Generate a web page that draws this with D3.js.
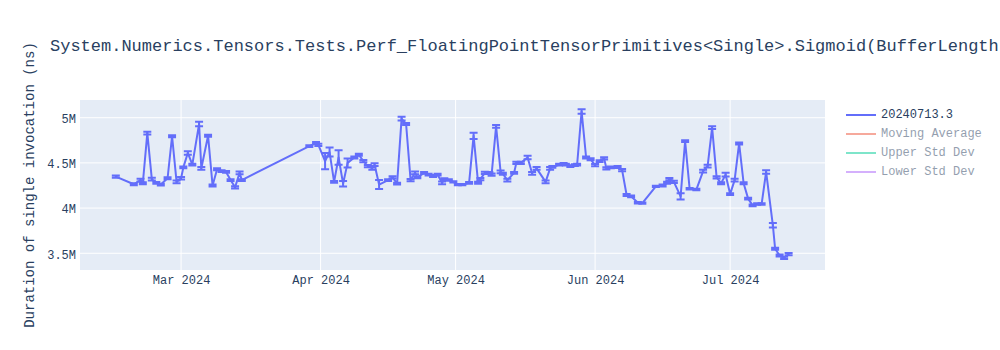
<!DOCTYPE html>
<html>
<head>
<meta charset="utf-8">
<script src="https://cdn.jsdelivr.net/npm/d3@7"></script>
<style>
  body { margin: 0; background: #fff; }
  text { font-family: "Courier New", "Liberation Mono", monospace; fill: #2a3f5f; }
</style>
</head>
<body>
<div class="chart"></div>
<script>
// build dates (runs), duration in ns, and std error per run
const dates = [
  "2024-02-15 12","2024-02-19 12","2024-02-21 00","2024-02-21 12","2024-02-22 12","2024-02-23 12",
  "2024-02-24 12","2024-02-25 12","2024-02-27 00","2024-02-28 00","2024-02-29 00","2024-03-01 00",
  "2024-03-01 12","2024-03-02 12","2024-03-03 12","2024-03-05 00","2024-03-05 12","2024-03-07 00",
  "2024-03-08 00","2024-03-09 00","2024-03-10 00","2024-03-11 00","2024-03-12 00","2024-03-13 00",
  "2024-03-14 00","2024-03-14 12","2024-03-29 12","2024-03-31 00","2024-03-31 12","2024-04-02 00",
  "2024-04-03 00","2024-04-04 00","2024-04-05 00","2024-04-06 00","2024-04-07 00","2024-04-08 12",
  "2024-04-09 12","2024-04-10 12","2024-04-11 12","2024-04-12 12","2024-04-13 00","2024-04-14 00",
  "2024-04-16 00","2024-04-17 00","2024-04-18 00","2024-04-19 00","2024-04-20 00","2024-04-21 00",
  "2024-04-22 00","2024-04-22 12","2024-04-24 00","2024-04-25 00","2024-04-26 00","2024-04-27 00",
  "2024-04-28 00","2024-04-28 12","2024-04-29 12","2024-04-30 12","2024-05-01 12","2024-05-02 12",
  "2024-05-04 00","2024-05-05 00","2024-05-06 00","2024-05-06 12","2024-05-07 12","2024-05-08 12",
  "2024-05-09 00","2024-05-10 00","2024-05-11 00","2024-05-11 12","2024-05-12 12","2024-05-14 00",
  "2024-05-14 12","2024-05-15 12","2024-05-17 00","2024-05-18 00","2024-05-19 00","2024-05-21 00",
  "2024-05-22 00","2024-05-22 12","2024-05-24 00","2024-05-25 00","2024-05-25 12","2024-05-26 12",
  "2024-05-27 12","2024-05-28 00","2024-05-29 00","2024-05-30 00","2024-05-31 00","2024-06-01 00",
  "2024-06-02 00","2024-06-03 00","2024-06-03 12","2024-06-04 12","2024-06-06 00","2024-06-07 00",
  "2024-06-08 00","2024-06-09 00","2024-06-10 12","2024-06-11 12","2024-06-14 12","2024-06-16 00",
  "2024-06-17 00","2024-06-17 12","2024-06-18 12","2024-06-20 00","2024-06-21 00","2024-06-22 00",
  "2024-06-23 12","2024-06-25 00","2024-06-26 00","2024-06-27 00","2024-06-28 00","2024-06-29 00",
  "2024-06-30 00","2024-07-01 00","2024-07-02 00","2024-07-03 00","2024-07-04 00","2024-07-05 00",
  "2024-07-06 00","2024-07-07 00","2024-07-08 00","2024-07-09 00","2024-07-10 12","2024-07-11 00",
  "2024-07-12 00","2024-07-13 00","2024-07-14 00"
];
const durations = [
  4.348e6,4.264e6,4.31e6,4.275e6,4.83e6,4.32e6,
  4.28e6,4.26e6,4.33e6,4.795e6,4.29e6,4.33e6,
  4.45e6,4.61e6,4.48e6,4.93e6,4.44e6,4.80e6,
  4.25e6,4.43e6,4.41e6,4.40e6,4.31e6,4.23e6,
  4.39e6,4.31e6,4.685e6,4.72e6,4.70e6,4.52e6,
  4.62e6,4.29e6,4.56e6,4.27e6,4.50e6,4.56e6,
  4.59e6,4.52e6,4.465e6,4.44e6,4.48e6,4.26e6,
  4.31e6,4.34e6,4.27e6,4.99e6,4.93e6,4.31e6,
  4.39e6,4.34e6,4.39e6,4.37e6,4.355e6,4.37e6,
  4.28e6,4.32e6,4.31e6,4.29e6,4.26e6,4.26e6,
  4.28e6,4.80e6,4.28e6,4.32e6,4.39e6,4.39e6,
  4.37e6,4.905e6,4.40e6,4.38e6,4.31e6,4.39e6,
  4.50e6,4.50e6,4.56e6,4.385e6,4.44e6,4.29e6,
  4.44e6,4.455e6,4.48e6,4.49e6,4.48e6,4.465e6,
  4.475e6,4.48e6,5.07e6,4.56e6,4.54e6,4.475e6,
  4.52e6,4.55e6,4.44e6,4.45e6,4.455e6,4.42e6,
  4.145e6,4.13e6,4.06e6,4.055e6,4.24e6,4.25e6,
  4.28e6,4.32e6,4.29e6,4.13e6,4.74e6,4.215e6,
  4.205e6,4.41e6,4.465e6,4.89e6,4.34e6,4.275e6,
  4.37e6,4.155e6,4.31e6,4.715e6,4.275e6,4.105e6,
  4.03e6,4.045e6,4.045e6,4.40e6,3.81e6,3.55e6,
  3.475e6,3.45e6,3.49e6
];
const errors = [
  12e3,10e3,15e3,10e3,15e3,15e3,
  10e3,10e3,12e3,12e3,15e3,15e3,
  10e3,20e3,10e3,25e3,15e3,12e3,
  12e3,12e3,10e3,10e3,10e3,12e3,
  15e3,10e3,10e3,12e3,12e3,90e3,
  50e3,10e3,80e3,30e3,50e3,10e3,
  12e3,12e3,12e3,15e3,15e3,50e3,
  10e3,12e3,10e3,20e3,12e3,12e3,
  15e3,10e3,10e3,10e3,12e3,10e3,
  15e3,10e3,8e3,8e3,6e3,6e3,
  10e3,35e3,12e3,12e3,12e3,10e3,
  12e3,15e3,15e3,10e3,15e3,10e3,
  12e3,12e3,20e3,15e3,15e3,15e3,
  15e3,10e3,10e3,10e3,10e3,10e3,
  10e3,10e3,25e3,10e3,12e3,12e3,
  10e3,12e3,12e3,10e3,12e3,12e3,
  10e3,10e3,8e3,8e3,8e3,10e3,
  12e3,12e3,12e3,35e3,10e3,8e3,
  8e3,15e3,15e3,15e3,12e3,12e3,
  20e3,10e3,15e3,12e3,10e3,10e3,
  10e3,8e3,8e3,20e3,25e3,12e3,
  12e3,12e3,12e3
];
const legendNames = ["20240713.3", "Moving Average", "Upper Std Dev", "Lower Std Dev"];
const legendColors = ["#636efa", "#EF553B", "#00cc96", "#ab63fa"];
const yTicks = [3.5e6, 4e6, 4.5e6, 5e6];
const title = "System.Numerics.Tensors.Tests.Perf_FloatingPointTensorPrimitives<Single>.Sigmoid(BufferLength";

const width = 1000;
const height = 350;
const margin = {top: 100, right: 175, bottom: 80, left: 80};

const parse = d3.timeParse("%Y-%m-%d %H");
const data = dates.map((d, i) => ({date: parse(d), value: durations[i], err: errors[i]}));

const svg = d3.select(".chart")
  .append("svg")
  .attr("width", width)
  .attr("height", height)
  .attr("viewBox", [0, 0, width, height]);

const x = d3.scaleTime()
  .domain([parse("2024-02-07 13"), parse("2024-07-22 02")])
  .range([margin.left, width - margin.right]);

const y = d3.scaleLinear()
  .domain([3.315e6, 5.196e6])
  .range([height - margin.bottom, margin.top]);

// plot background
svg.append("rect")
  .attr("x", margin.left)
  .attr("y", margin.top)
  .attr("width", width - margin.left - margin.right)
  .attr("height", height - margin.top - margin.bottom)
  .attr("fill", "#E5ECF6");

// grid
const xTicks = x.ticks(d3.timeMonth.every(1));
svg.append("g")
  .selectAll("line")
  .data(xTicks)
  .join("line")
  .attr("x1", d => x(d)).attr("x2", d => x(d))
  .attr("y1", margin.top).attr("y2", height - margin.bottom)
  .attr("stroke", "#fff").attr("stroke-width", 1);

svg.append("g")
  .selectAll("line")
  .data(yTicks)
  .join("line")
  .attr("x1", margin.left).attr("x2", width - margin.right)
  .attr("y1", d => y(d)).attr("y2", d => y(d))
  .attr("stroke", "#fff").attr("stroke-width", 1);

// axes
const xAxis = svg.append("g")
  .attr("transform", `translate(0,${height - margin.bottom})`)
  .call(d3.axisBottom(x).tickValues(xTicks).tickFormat(d3.timeFormat("%b %Y")).tickSize(0).tickPadding(5));
xAxis.select(".domain").remove();

const yAxis = svg.append("g")
  .attr("transform", `translate(${margin.left},0)`)
  .call(d3.axisLeft(y).tickValues(yTicks).tickFormat(d3.format("~s")).tickSize(0).tickPadding(4));
yAxis.select(".domain").remove();
yAxis.selectAll(".tick text").attr("dy", "0.4em");

svg.selectAll(".tick text")
  .attr("font-family", "'Courier New', 'Liberation Mono', monospace")
  .attr("font-size", 12)
  .attr("fill", "#2a3f5f");

// error bars
const color = legendColors[0];
const bars = svg.append("g")
  .attr("stroke", color)
  .attr("stroke-width", 2);

bars.selectAll(".eb")
  .data(data)
  .join("path")
  .attr("class", "eb")
  .attr("fill", "none")
  .attr("d", d => {
    const cx = x(d.date), y0 = y(d.value - d.err), y1 = y(d.value + d.err);
    return `M${cx - 4},${y0}H${cx + 4}M${cx},${y0}V${y1}M${cx - 4},${y1}H${cx + 4}`;
  });

// line
const line = d3.line()
  .x(d => x(d.date))
  .y(d => y(d.value));

svg.append("path")
  .datum(data)
  .attr("fill", "none")
  .attr("stroke", color)
  .attr("stroke-width", 2)
  .attr("stroke-linejoin", "round")
  .attr("d", line);

// title
svg.append("text")
  .attr("x", 50)
  .attr("y", 46)
  .attr("dominant-baseline", "central")
  .attr("font-size", 17)
  .text(title);

// y axis title
svg.append("text")
  .attr("transform", `translate(30,${(margin.top + height - margin.bottom) / 2}) rotate(-90)`)
  .attr("text-anchor", "middle")
  .attr("dominant-baseline", "central")
  .attr("font-size", 14)
  .text("Duration of single invocation (ns)");

// legend
const legend = svg.append("g")
  .selectAll("g")
  .data(legendNames)
  .join("g")
  .attr("transform", (d, i) => `translate(846,${115 + i * 19})`)
  .attr("opacity", (d, i) => i === 0 ? 1 : 0.5);

legend.append("line")
  .attr("x1", 0).attr("x2", 30)
  .attr("stroke", (d, i) => legendColors[i])
  .attr("stroke-width", 2);

legend.append("text")
  .attr("x", 35)
  .attr("dominant-baseline", "central")
  .attr("font-size", 12)
  .text(d => d);
</script>
</body>
</html>
